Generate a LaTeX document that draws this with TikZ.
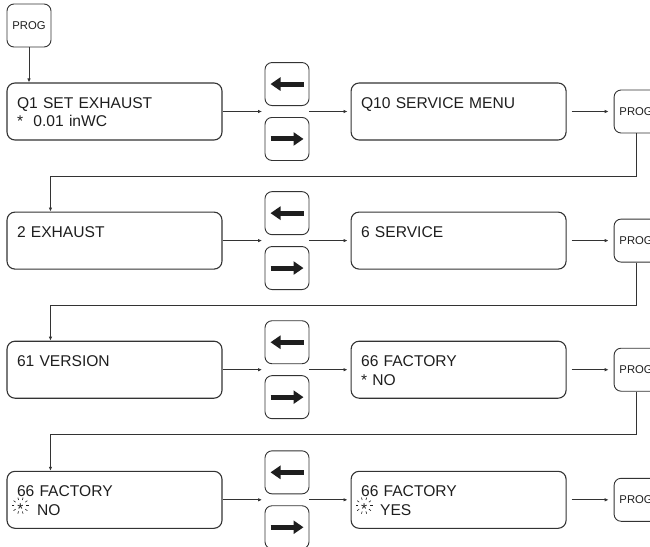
\documentclass[tikz,border=0pt]{standalone}
\usepackage{fontspec}
\setmainfont{Liberation Sans}
\usetikzlibrary{arrows.meta,positioning}
\definecolor{linegray}{HTML}{333333}
\definecolor{inkgray}{HTML}{1E1E1E}

\begin{document}
\begin{tikzpicture}[
  x=1pt, y=-1pt,
  >={Latex[length=4pt,width=3.5pt]},
  node distance=71pt and 42pt,
  screen/.style={draw=linegray, line width=1.1pt, rounded corners=8pt, text=inkgray, align=left, text width=195pt, inner xsep=10pt, inner ysep=10pt, text height=15.2pt, text depth=21.8pt, font=\fontsize{15.6}{18.7}\selectfont},
  progkey/.style={draw=linegray, line width=0.9pt, rounded corners=7pt, text=inkgray, minimum width=44pt, minimum height=43pt, inner sep=0pt, font=\fontsize{11.3}{13}\selectfont},
  arrowkey/.style={draw=linegray, line width=0.9pt, rounded corners=7pt, minimum width=44pt, minimum height=43pt, inner sep=0pt},
  flow/.style={->, linegray, line width=0.8pt},
  keyarrow/.style={-{Triangle[length=10pt,width=13pt]}, inkgray, line width=5pt},
  blinkstar/.pic={
    \node[inner sep=0pt, anchor=base, text=inkgray, font=\fontsize{15.6}{18.7}\selectfont] at (0,9) {*};
    \foreach \a in {0,36,...,324} \draw[inkgray, line width=0.6pt] (0,0) ++(\a:6pt) -- ++(\a:2.5pt);
  }
]
\useasboundingbox (0,0) rectangle (650,546);

\node[progkey] (prog0) at (29,25.5) {PROG};

% row 1
\node[screen] (q1) at (114.5,111.5) {Q1 SET EXHAUST\\{*}~~0.01 inWC};
\node[arrowkey, above right=5.5pt and 42pt of q1.east] (left1) {};
\node[arrowkey, below right=5.5pt and 42pt of q1.east] (right1) {};
\node[screen, right=128pt of q1] (q10) {Q10 SERVICE MENU};
\node[progkey, right=47pt of q10] (prog1) {PROG};

% row 2
\node[screen, below=71pt of q1] (exh2) {2 EXHAUST};
\node[arrowkey, above right=5.5pt and 42pt of exh2.east] (left2) {};
\node[arrowkey, below right=5.5pt and 42pt of exh2.east] (right2) {};
\node[screen, right=128pt of exh2] (serv6) {6 SERVICE};
\node[progkey, right=47pt of serv6] (prog2) {PROG};

% row 3
\node[screen, below=71pt of exh2] (ver61) {61 VERSION};
\node[arrowkey, above right=5.5pt and 42pt of ver61.east] (left3) {};
\node[arrowkey, below right=5.5pt and 42pt of ver61.east] (right3) {};
\node[screen, right=128pt of ver61] (fact66) {66 FACTORY\\{*} NO};
\node[progkey, right=47pt of fact66] (prog3) {PROG};

% row 4
\node[screen, below=72pt of ver61] (factno) {66 FACTORY\\\hspace*{20pt}NO};
\node[arrowkey, above right=5.5pt and 42pt of factno.east] (left4) {};
\node[arrowkey, below right=5.5pt and 42pt of factno.east] (right4) {};
\node[screen, right=128pt of factno] (factyes) {66 FACTORY\\\hspace*{19pt}YES};
\node[progkey, right=47pt of factyes] (prog4) {PROG};

\pic at ([xshift=14pt,yshift=-34.9pt]factno.north west) {blinkstar};
\pic at ([xshift=13.5pt,yshift=-34.9pt]factyes.north west) {blinkstar};

% key arrows
\draw[keyarrow] ([xshift=16.5pt]left1.center) -- ([xshift=-16.5pt]left1.center);
\draw[keyarrow] ([xshift=-16.5pt]right1.center) -- ([xshift=16.5pt]right1.center);
\draw[keyarrow] ([xshift=16.5pt]left2.center) -- ([xshift=-16.5pt]left2.center);
\draw[keyarrow] ([xshift=-16.5pt]right2.center) -- ([xshift=16.5pt]right2.center);
\draw[keyarrow] ([xshift=16.5pt]left3.center) -- ([xshift=-16.5pt]left3.center);
\draw[keyarrow] ([xshift=-16.5pt]right3.center) -- ([xshift=16.5pt]right3.center);
\draw[keyarrow] ([xshift=16.5pt]left4.center) -- ([xshift=-16.5pt]left4.center);
\draw[keyarrow] ([xshift=-16.5pt]right4.center) -- ([xshift=16.5pt]right4.center);

% connectors
\draw[flow] (prog0) -- (prog0 |- q1.north);

\draw[flow, shorten >=2.5pt] (q1.east) -- (q1.east -| left1.west);
\draw[flow, shorten >=3pt] (q1.east -| left1.east) -- (q10.west);
\draw[flow, shorten <=5pt, shorten >=5pt] (q10) -- (prog1);
\draw[flow] (prog1.south) |- ([xshift=44pt,yshift=35.5pt]exh2.north west) -- ([xshift=44pt]exh2.north west);

\draw[flow, shorten >=2.5pt] (exh2.east) -- (exh2.east -| left2.west);
\draw[flow, shorten >=3pt] (exh2.east -| left2.east) -- (serv6.west);
\draw[flow, shorten <=5pt, shorten >=5pt] (serv6) -- (prog2);
\draw[flow] (prog2.south) |- ([xshift=44pt,yshift=35.5pt]ver61.north west) -- ([xshift=44pt]ver61.north west);

\draw[flow, shorten >=2.5pt] (ver61.east) -- (ver61.east -| left3.west);
\draw[flow, shorten >=3pt] (ver61.east -| left3.east) -- (fact66.west);
\draw[flow, shorten <=5pt, shorten >=5pt] (fact66) -- (prog3);
\draw[flow] (prog3.south) |- ([xshift=44pt,yshift=36pt]factno.north west) -- ([xshift=44pt]factno.north west);

\draw[flow, shorten >=2.5pt] (factno.east) -- (factno.east -| left4.west);
\draw[flow, shorten >=3pt] (factno.east -| left4.east) -- (factyes.west);
\draw[flow, shorten <=5pt, shorten >=5pt] (factyes) -- (prog4);
\end{tikzpicture}
\end{document}
